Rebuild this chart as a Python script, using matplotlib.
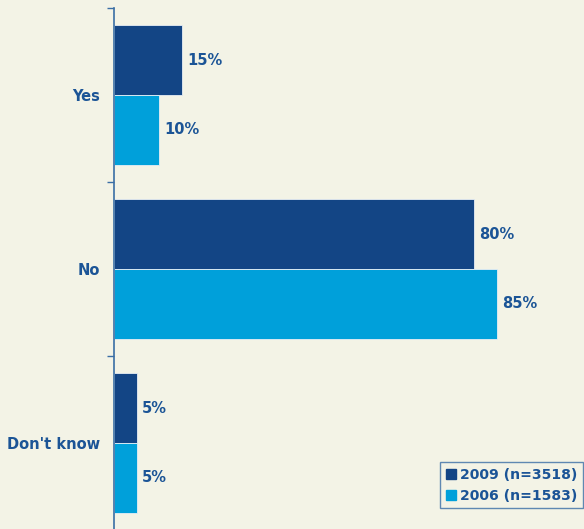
import numpy as np
import matplotlib
matplotlib.use("Agg")
import matplotlib.pyplot as plt
from matplotlib.lines import Line2D

COLORS = {
    "bg":    "#F3F3E6",
    "dark":  "#134585",
    "light": "#00A0DA",
    "text":  "#1B5496",
    "axis":  "#3A6EA5",
}

categories = ["Yes", "No", "Don't know"]
series_names = ["2009 (n=3518)", "2006 (n=1583)"]
values_2009 = [15, 80, 5]
values_2006 = [10, 85, 5]

plt.rcParams["font.family"] = ["DejaVu Sans"]
FS = 10.5

fig = plt.figure(figsize=(5.84, 5.29), dpi=100, facecolor=COLORS["bg"])
ax = fig.add_axes([114 / 584, -1 / 529, 1 - 114 / 584, 522 / 529])
ax.set_facecolor(COLORS["bg"])

y = np.arange(len(categories))
h = 0.4
bars1 = ax.barh(y - h / 2, values_2009, height=h, color=COLORS["dark"],
                edgecolor="#E8EEF4", linewidth=0.6)
bars2 = ax.barh(y + h / 2, values_2006, height=h, color=COLORS["light"],
                edgecolor="#E8EEF4", linewidth=0.6)

for bars, vals in [(bars1, values_2009), (bars2, values_2006)]:
    for b, v in zip(bars, vals):
        ax.text(v + 1.2, b.get_y() + b.get_height() / 2, f"{v}%",
                va="center", ha="left", fontsize=FS, fontweight="bold",
                color=COLORS["text"])

ax.set_xlim(0, 104.4)
ax.set_ylim(2.5, -0.5)
ax.set_yticks(y)
ax.set_yticklabels(categories, fontsize=FS, fontweight="bold", color=COLORS["text"])
ax.set_yticks([-0.5, 0.5, 1.5], minor=True)
ax.tick_params(axis="y", which="major", length=0, pad=10)
ax.tick_params(axis="y", which="minor", length=5, width=1, color=COLORS["axis"])
ax.set_xticks([])

for s in ["top", "right", "bottom"]:
    ax.spines[s].set_visible(False)
ax.spines["left"].set_color(COLORS["axis"])
ax.spines["left"].set_linewidth(1.2)

handles = [
    Line2D([], [], marker="s", linestyle="none", markersize=6.5,
           markerfacecolor=COLORS["dark"], markeredgecolor=COLORS["dark"]),
    Line2D([], [], marker="s", linestyle="none", markersize=6.5,
           markerfacecolor=COLORS["light"], markeredgecolor=COLORS["light"]),
]
leg = fig.legend(handles, series_names, loc="upper left",
                 bbox_to_anchor=(440 / 584, 1 - 462 / 529),
                 frameon=True, fancybox=False, borderpad=0.4,
                 handlelength=0.7, handletextpad=0.35, labelspacing=0.5,
                 borderaxespad=0,
                 prop={"weight": "bold", "size": 10.1})
leg.get_frame().set_edgecolor(COLORS["axis"])
leg.get_frame().set_facecolor(COLORS["bg"])
leg.get_frame().set_linewidth(1.0)
for t in leg.get_texts():
    t.set_color(COLORS["text"])

fig.savefig("out.png", dpi=100, facecolor=COLORS["bg"])
